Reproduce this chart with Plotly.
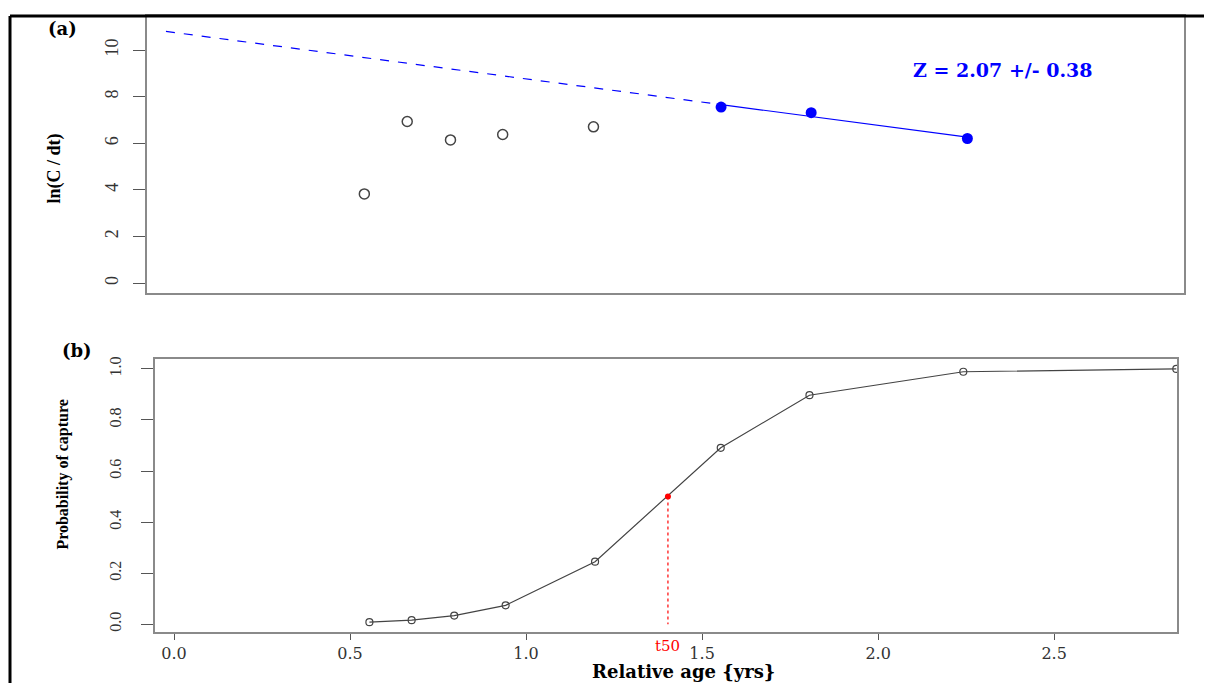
import numpy as np
import plotly.graph_objects as go

# ---------------- data ----------------
age = [0.555, 0.675, 0.796, 0.942, 1.196, 1.553, 1.805, 2.242]
ln_c_dt = [3.83, 6.94, 6.15, 6.38, 6.71, 7.56, 7.32, 6.21]
in_fit = [False, False, False, False, False, True, True, True]

sel_age = [0.555, 0.675, 0.796, 0.942, 1.196, 1.553, 1.805, 2.242, 2.847]
prob_capture = [0.008, 0.016, 0.034, 0.074, 0.245, 0.691, 0.897, 0.989, 1.0]

t50 = 1.403
t50_prob = 0.5

ya_ticks = [0, 2, 4, 6, 8, 10]
yb_ticks = [0.0, 0.2, 0.4, 0.6, 0.8, 1.0]
yb_ticktext = ["0.0", "0.2", "0.4", "0.6", "0.8", "1.0"]
xb_ticks = [0.0, 0.5, 1.0, 1.5, 2.0, 2.5]
xb_ticktext = ["0.0", "0.5", "1.0", "1.5", "2.0", "2.5"]

z_label = "Z = 2.07 +/- 0.38"
panel_a_label = "(a)"
panel_b_label = "(b)"
ya_title = "ln(C / dt)"
yb_title = "Probability of capture"
xb_title = "Relative age {yrs}"

# page body has an 8px margin: size the figure to fit inside it
OFF = 8
W, H = 1196, 675


def px(x):
    return (x - OFF) / W


def py(y):
    return 1 - (y - OFF) / H


# regression on the selected (filled) points
fx = np.array([a for a, f in zip(age, in_fit) if f])
fy = np.array([v for v, f in zip(ln_c_dt, in_fit) if f])
slope, intercept = np.polyfit(fx, fy, 1)

fig = go.Figure()

# panel (a): open points
fig.add_trace(go.Scatter(
    x=[a for a, f in zip(age, in_fit) if not f],
    y=[v for v, f in zip(ln_c_dt, in_fit) if not f],
    mode="markers", xaxis="x", yaxis="y",
    marker=dict(symbol="circle-open", size=10, color="#444444", line=dict(width=1.5)),
    showlegend=False, hoverinfo="skip"))

# dashed extrapolation
xd = np.array([0.0, fx.min()])
fig.add_trace(go.Scatter(
    x=xd, y=intercept + slope * xd, mode="lines", xaxis="x", yaxis="y",
    line=dict(color="#0000FF", width=1.2, dash="dash"),
    showlegend=False, hoverinfo="skip"))
# solid fitted segment
xs = np.array([fx.min(), fx.max()])
fig.add_trace(go.Scatter(
    x=xs, y=intercept + slope * xs, mode="lines", xaxis="x", yaxis="y",
    line=dict(color="#0000FF", width=1.2),
    showlegend=False, hoverinfo="skip"))
# filled points
fig.add_trace(go.Scatter(
    x=fx, y=fy, mode="markers", xaxis="x", yaxis="y",
    marker=dict(symbol="circle", size=11, color="#0000FF"),
    showlegend=False, hoverinfo="skip"))

# panel (b): selection curve
fig.add_trace(go.Scatter(
    x=sel_age, y=prob_capture, mode="lines+markers", xaxis="x2", yaxis="y2",
    line=dict(color="#444444", width=1.2),
    marker=dict(symbol="circle-open", size=7, color="#444444", line=dict(width=1.2)),
    showlegend=False, hoverinfo="skip"))
# t50 dotted line
fig.add_trace(go.Scatter(
    x=[t50, t50], y=[t50_prob, 0.0], mode="lines", xaxis="x2", yaxis="y2",
    line=dict(color="#FF0000", width=1.2, dash="dot"),
    showlegend=False, hoverinfo="skip"))
fig.add_trace(go.Scatter(
    x=[t50], y=[t50_prob], mode="markers", xaxis="x2", yaxis="y2",
    marker=dict(symbol="circle", size=6, color="#FF0000"),
    showlegend=False, hoverinfo="skip"))

serif = "Liberation Serif"
dserif = "DejaVu Serif"
axis_line = dict(showline=True, mirror=True, linecolor="#8a8a8a", linewidth=1.5,
                 showgrid=False, zeroline=False)

fig.update_layout(
    width=W, height=H, autosize=False,
    margin=dict(l=0, r=0, t=0, b=0),
    paper_bgcolor="white", plot_bgcolor="white",
    xaxis=dict(domain=[px(147), px(1184)], range=[-0.053, 2.848], anchor="y",
               showticklabels=False, ticks="", **axis_line),
    yaxis=dict(domain=[py(292), py(14)], range=[-0.43, 11.47], anchor="x",
               tickvals=ya_ticks, ticks="outside", ticklen=12, tickcolor="#555555",
               tickangle=-90, ticklabelstandoff=8,
               tickfont=dict(family=serif, size=18, color="#333333"), **axis_line),
    xaxis2=dict(domain=[px(155), px(1177)], range=[-0.054, 2.849], anchor="y2",
                tickvals=xb_ticks, ticktext=xb_ticktext, ticks="outside", ticklen=6,
                tickcolor="#555555",
                tickfont=dict(family=dserif, size=16, color="#333333"), **axis_line),
    yaxis2=dict(domain=[py(632), py(358)], range=[-0.031, 1.039], anchor="x2",
                tickvals=yb_ticks, ticktext=yb_ticktext, ticks="outside", ticklen=12,
                tickcolor="#555555", tickangle=-90, ticklabelstandoff=14,
                tickfont=dict(family=serif, size=16, color="#333333"), **axis_line),
)

# outer frame (black)
fig.add_shape(type="line", xref="paper", yref="paper",
              x0=px(10), y0=py(14), x1=1, y1=py(14), line=dict(color="black", width=3))
fig.add_shape(type="line", xref="paper", yref="paper",
              x0=px(10), y0=py(14), x1=px(10), y1=0, line=dict(color="black", width=3))

ann = [
    dict(text="<b>" + panel_a_label + "</b>", x=px(62), y=py(27),
         font=dict(family=dserif, size=18, color="black")),
    dict(text="<b>" + panel_b_label + "</b>", x=px(77), y=py(350),
         font=dict(family=dserif, size=18, color="black")),
    dict(text="<b>" + ya_title + "</b>", x=px(55), y=py(167), textangle=-90,
         font=dict(family=serif, size=18, color="black")),
    dict(text="<b>" + yb_title + "</b>", x=px(63), y=py(474), textangle=-90,
         font=dict(family=serif, size=16, color="black")),
    dict(text="<b>" + xb_title + "</b>", x=px(683), y=py(671),
         font=dict(family=dserif, size=18, color="black")),
    dict(text="<b>" + z_label + "</b>", x=px(1003), y=py(68),
         font=dict(family=dserif, size=19, color="#0000FF")),
]
for a in ann:
    fig.add_annotation(xref="paper", yref="paper", showarrow=False,
                       xanchor="center", yanchor="middle", **a)

fig.add_annotation(text="t50", xref="x2", yref="paper", x=t50, y=py(646),
                   showarrow=False, xanchor="center", yanchor="middle",
                   font=dict(family=dserif, size=15, color="#FF0000"))

fig.write_html("out.html")
